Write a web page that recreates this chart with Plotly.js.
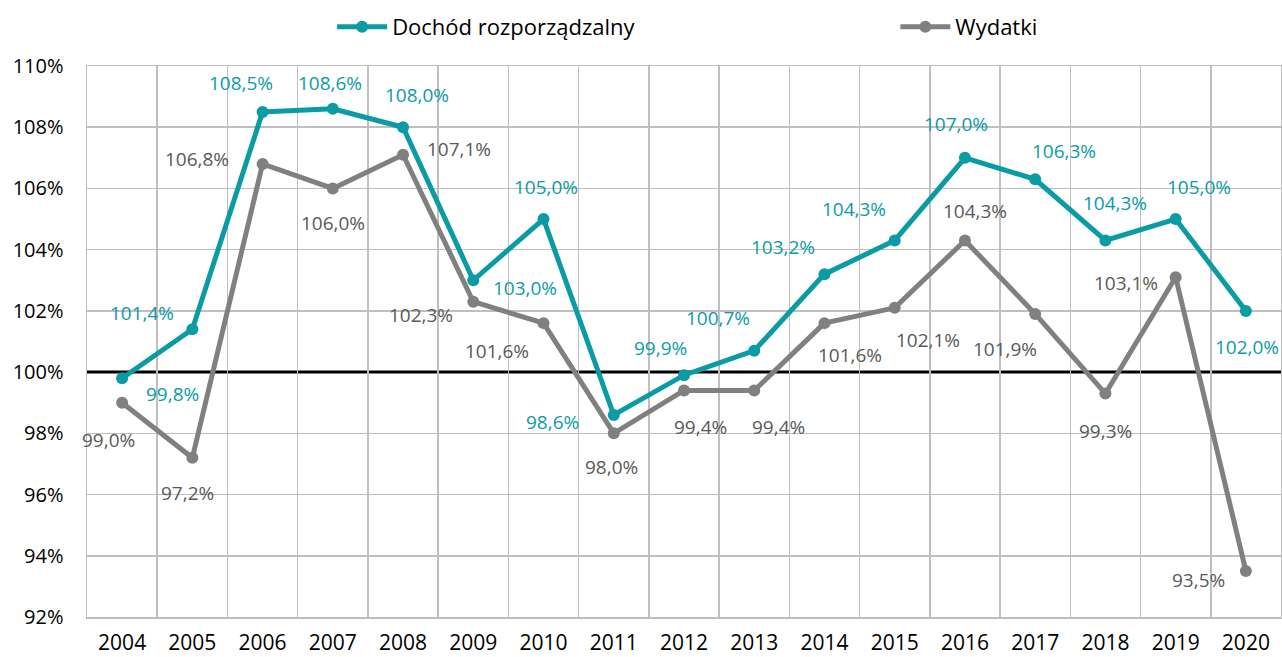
<!DOCTYPE html>
<html>
<head>
<meta charset="utf-8">
<script src="https://cdn.plot.ly/plotly-3.0.1.min.js"></script>
<style>html,body{margin:0;padding:0;background:#fff;}#chart{width:1282px;height:657px;}</style>
</head>
<body>
<div id="chart"></div>
<script>
// ---- data ----
const years = [2004,2005,2006,2007,2008,2009,2010,2011,2012,2013,2014,2015,2016,2017,2018,2019,2020];
const dochod = [99.8,101.4,108.5,108.6,108.0,103.0,105.0,98.6,99.9,100.7,103.2,104.3,107.0,106.3,104.3,105.0,102.0];
const wydatki = [99.0,97.2,106.8,106.0,107.1,102.3,101.6,98.0,99.4,99.4,101.6,102.1,104.3,101.9,99.3,103.1,93.5];
const seriesNames = ['Dochód rozporządzalny','Wydatki'];
const yTicks = [92,94,96,98,100,102,104,106,108,110];
const baseline = 100;

// ---- label offsets (px, dx right, dy down) ----
const dochodOff = [[50,16],[-50,-16],[-22,-29],[-3,-26],[14,-32],[52,8],[2,-32],[-61,7],[-24,-27],[-36,-33],[-41,-27],[-41,-31],[-9,-34],[29,-28],[10,-37],[23,-32],[1,36]];
const wydatkiOff = [[-14,37],[-5,35],[-66,-5],[0,35],[56,-6],[-52,13],[-47,28],[-2,34],[16,37],[24,37],[26,32],[33,32],[10,-29],[-30,35],[0,37],[-50,6],[-47,9]];

const TEAL = '#0b9ba5';
const GRAY = '#808080';
const GRAY_TXT = '#595959';
const GRID = '#bfbfbf';
const FONT = 'Open Sans, Noto Sans, sans-serif';

const fmt = v => v.toFixed(1).replace('.', ',') + '%';

const traces = [
  {x: years, y: dochod, name: seriesNames[0], type: 'scatter', mode: 'lines+markers', legend: 'legend',
   line: {color: TEAL, width: 5}, marker: {color: TEAL, size: 12}, cliponaxis: false},
  {x: years, y: wydatki, name: seriesNames[1], type: 'scatter', mode: 'lines+markers', legend: 'legend2',
   line: {color: GRAY, width: 5}, marker: {color: GRAY, size: 12}, cliponaxis: false}
];

const annotations = [];
function addLabels(vals, offs, color) {
  vals.forEach((v, i) => {
    annotations.push({x: years[i], y: v, xref: 'x', yref: 'y', text: fmt(v), showarrow: false,
      xshift: offs[i][0], yshift: -offs[i][1], font: {family: FONT, size: 19, color: color}});
  });
}
addLabels(dochod, dochodOff, TEAL);
addLabels(wydatki, wydatkiOff, GRAY_TXT);

const xMin = years[0] - 0.5, xMax = years[years.length - 1] + 0.5;
const minorVals = [];
for (let i = 0; i <= years.length; i++) minorVals.push(xMin + i);
const yGrid = yTicks.filter(v => v !== baseline);

const legendFont = {family: FONT, size: 22, color: '#000'};
const layout = {
  width: 1282, height: 657,
  margin: {l: 87, r: 1, t: 66, b: 40, autoexpand: false},
  paper_bgcolor: '#fff', plot_bgcolor: '#fff',
  font: {family: FONT, size: 20, color: '#000'},
  showlegend: true,
  legend: {orientation: 'h', x: 0.2053, xanchor: 'left', y: 1.0708, yanchor: 'middle',
    font: legendFont, itemwidth: 50, bgcolor: 'rgba(0,0,0,0)'},
  legend2: {orientation: 'h', x: 0.677, xanchor: 'left', y: 1.0708, yanchor: 'middle',
    font: legendFont, itemwidth: 50, bgcolor: 'rgba(0,0,0,0)'},
  xaxis: {range: [xMin, xMax], tickvals: years, ticktext: years.map(String),
    showgrid: false, zeroline: false, showline: true, linecolor: GRID, linewidth: 1.5, mirror: true,
    ticks: '', ticklabelstandoff: 6, tickfont: {family: FONT, size: 21, color: '#000'},
    minor: {tickvals: minorVals, showgrid: true, gridcolor: GRID, gridwidth: 1.5, ticks: ''}},
  yaxis: {range: [92, 110], tickvals: yTicks, ticktext: yTicks.map(v => v + '%'),
    showgrid: false, zeroline: false, showline: true,
    linecolor: GRID, linewidth: 1.5, mirror: true, ticks: '', ticklabelstandoff: 18,
    tickfont: {family: FONT, size: 20, color: '#000'},
    minor: {tickvals: yGrid, showgrid: true, gridcolor: GRID, gridwidth: 1.5, ticks: ''}},
  shapes: [{type: 'line', xref: 'x', x0: xMin, x1: xMax, yref: 'y', y0: baseline, y1: baseline,
    line: {color: '#000', width: 3}, layer: 'below'}],
  annotations: annotations
};

Plotly.newPlot('chart', traces, layout, {displayModeBar: false, staticPlot: true});
</script>
</body>
</html>
